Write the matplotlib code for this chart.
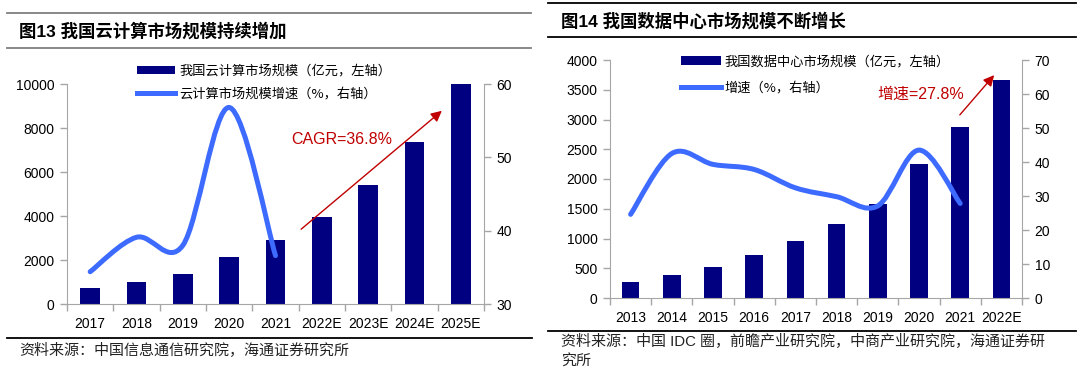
import matplotlib
matplotlib.use("Agg")
import matplotlib.pyplot as plt
import numpy as np
from matplotlib.path import Path
from matplotlib.patches import PathPatch, Patch
from matplotlib.lines import Line2D

# ---------------- data ----------------
cloud_years = ['2017', '2018', '2019', '2020', '2021', '2022E', '2023E', '2024E', '2025E']
cloud_size = [740, 1010, 1370, 2140, 2910, 3960, 5390, 7360, 10000]
cloud_growth = [34.4, 39.1, 38.0, 56.8, 36.6]  # 2017-2021

dc_years = ['2013', '2014', '2015', '2016', '2017', '2018', '2019', '2020', '2021', '2022E']
dc_size = [270, 382, 522, 719, 955, 1236, 1573, 2253, 2871, 3669]
dc_growth = [24.6, 42.5, 39.3, 37.8, 32.4, 29.8, 27.1, 43.5, 27.8]  # 2013-2021

left_title = '图13 我国云计算市场规模持续增加'
right_title = '图14 我国数据中心市场规模不断增长'
left_legend = ['我国云计算市场规模（亿元，左轴）', '云计算市场规模增速（%，右轴）']
right_legend = ['我国数据中心市场规模（亿元，左轴）', '增速（%，右轴）']
left_note = 'CAGR=36.8%'
right_note = '增速=27.8%'
left_source = '资料来源：中国信息通信研究院，海通证券研究所'
right_source1 = '资料来源：中国 IDC 圈，前瞻产业研究院，中商产业研究院，海通证券研'
right_source2 = '究所'

# ---------------- style ----------------
NAVY = '#000080'
BLUE = '#3D6BFF'
RED = '#C00000'
SPINE = '#A6A6A6'
NUM_FONT = ['Liberation Sans', 'Noto Sans CJK SC']
CJK_FONT = ['Noto Sans CJK SC', 'DejaVu Sans']

W, H = 1080, 377
fig = plt.figure(figsize=(W / 100, H / 100), dpi=100)


def fx(px):
    return px / W


def fy(py):
    return 1 - py / H


def smooth_path(xs, ys):
    n = len(xs)
    verts = [(xs[0], ys[0])]
    codes = [Path.MOVETO]
    for i in range(n - 1):
        a = i - 1 if i > 0 else i
        d = i + 2 if i + 2 < n else i + 1
        c1 = (xs[i] + (xs[i + 1] - xs[a]) / 6, ys[i] + (ys[i + 1] - ys[a]) / 6)
        c2 = (xs[i + 1] - (xs[d] - xs[i]) / 6, ys[i + 1] - (ys[d] - ys[i]) / 6)
        verts += [c1, c2, (xs[i + 1], ys[i + 1])]
        codes += [Path.CURVE4] * 3
    return Path(verts, codes)


def style_axes(ax, axr, cats, ylim, yticks, rlim, rticks):
    n = len(cats)
    ax.set_xlim(-0.5, n - 0.5)
    ax.set_ylim(*ylim)
    ax.set_yticks(yticks)
    axr.set_ylim(*rlim)
    axr.set_yticks(rticks)
    ax.set_xticks(range(n))
    ax.set_xticklabels(cats)
    ax.set_xticks(np.arange(-0.5, n, 1), minor=True)
    ax.tick_params(axis='x', which='major', length=0, pad=9)
    ax.tick_params(axis='x', which='minor', length=5, color=SPINE, width=1, direction='out')
    ax.tick_params(axis='y', length=5, color=SPINE, width=1, direction='out', pad=4)
    axr.tick_params(axis='y', length=5, color=SPINE, width=1, direction='out', pad=4)
    for a in (ax, axr):
        a.spines['top'].set_visible(False)
        for lab in a.get_xticklabels() + a.get_yticklabels():
            lab.set_fontfamily(NUM_FONT)
            lab.set_fontsize(10)
    ax.spines['right'].set_visible(False)
    axr.spines['left'].set_visible(False)
    axr.spines['bottom'].set_visible(False)
    ax.spines['left'].set_color(SPINE)
    ax.spines['bottom'].set_color(SPINE)
    axr.spines['right'].set_color(SPINE)


# ---------------- left chart ----------------
ax1 = fig.add_axes([fx(67), fy(304), (484 - 67) / W, (304 - 84) / H])
ax1r = ax1.twinx()
x1 = np.arange(len(cloud_years))
ax1.bar(x1, cloud_size, width=0.42, color=NAVY)
style_axes(ax1, ax1r, cloud_years, (0, 10000), range(0, 10001, 2000), (30, 60), [30, 40, 50, 60])
ax1r.add_patch(PathPatch(smooth_path(list(range(len(cloud_growth))), cloud_growth),
                         fill=False, edgecolor=BLUE, lw=3.6, capstyle='round', joinstyle='round'))

fig.legend([Patch(facecolor=NAVY), Line2D([], [], color=BLUE, lw=3.6)], left_legend,
           loc='center left', bbox_to_anchor=(fx(137), fy(82.7)), frameon=False,
           prop={'family': CJK_FONT, 'size': 9.5}, handlelength=2.9, handleheight=0.6,
           handletextpad=0.3, labelspacing=0.75, borderpad=0, borderaxespad=0)

fig.text(fx(291), fy(139), left_note, color=RED, fontsize=11.5, family=NUM_FONT, va='center', ha='left')
fig.add_artist(matplotlib.patches.FancyArrowPatch((fx(299), fy(231)), (fx(444), fy(109)),
                                                  transform=fig.transFigure, arrowstyle='-|>',
                                                  mutation_scale=16, color=RED, lw=1))

# ---------------- right chart ----------------
ax2 = fig.add_axes([fx(610), fy(298), (1022 - 610) / W, (298 - 60) / H])
ax2r = ax2.twinx()
x2 = np.arange(len(dc_years))
ax2.bar(x2, dc_size, width=0.43, color=NAVY)
style_axes(ax2, ax2r, dc_years, (0, 4000), range(0, 4001, 500), (0, 70), range(0, 71, 10))
ax2r.add_patch(PathPatch(smooth_path(list(range(len(dc_growth))), dc_growth),
                         fill=False, edgecolor=BLUE, lw=3.6, capstyle='round', joinstyle='round'))

fig.legend([Patch(facecolor=NAVY), Line2D([], [], color=BLUE, lw=3.6)], right_legend,
           loc='center left', bbox_to_anchor=(fx(681), fy(74.9)), frameon=False,
           prop={'family': CJK_FONT, 'size': 9.5}, handlelength=3.0, handleheight=0.6,
           handletextpad=0.3, labelspacing=1.0, borderpad=0, borderaxespad=0)

fig.text(fx(877), fy(94), right_note, color=RED, fontsize=11.5, family=NUM_FONT, va='center', ha='left')
fig.add_artist(matplotlib.patches.FancyArrowPatch((fx(958), fy(117)), (fx(996), fy(73)),
                                                  transform=fig.transFigure, arrowstyle='-|>',
                                                  mutation_scale=16, color=RED, lw=1))

# ---------------- titles, rules, sources ----------------
def hline(x0, x1_, y, color, lw=1.3):
    fig.add_artist(Line2D([fx(x0), fx(x1_)], [fy(y), fy(y)], transform=fig.transFigure, color=color, lw=lw))


hline(7, 531, 12.5, '#7F7F7F')
hline(7, 531, 47.5, '#7F7F7F')
hline(548, 1076, 2.7, '#000000')
hline(548, 1076, 37, '#000000')
hline(7, 532, 338, '#000000')
hline(548, 1076, 331, '#000000')

fig.text(fx(19), fy(31), left_title, fontsize=12.5, fontweight='bold', family=NUM_FONT, va='center', ha='left')
fig.text(fx(561), fy(20.5), right_title, fontsize=12.5, fontweight='bold', family=NUM_FONT, va='center', ha='left')

fig.text(fx(19), fy(351), left_source, fontsize=10.8, family=CJK_FONT, va='center', ha='left', color='#222222')
fig.text(fx(561), fy(342), right_source1, fontsize=10.8, family=NUM_FONT, va='center', ha='left', color='#222222')
fig.text(fx(561), fy(361), right_source2, fontsize=10.8, family=CJK_FONT, va='center', ha='left', color='#222222')

fig.savefig('out.png', dpi=100)
